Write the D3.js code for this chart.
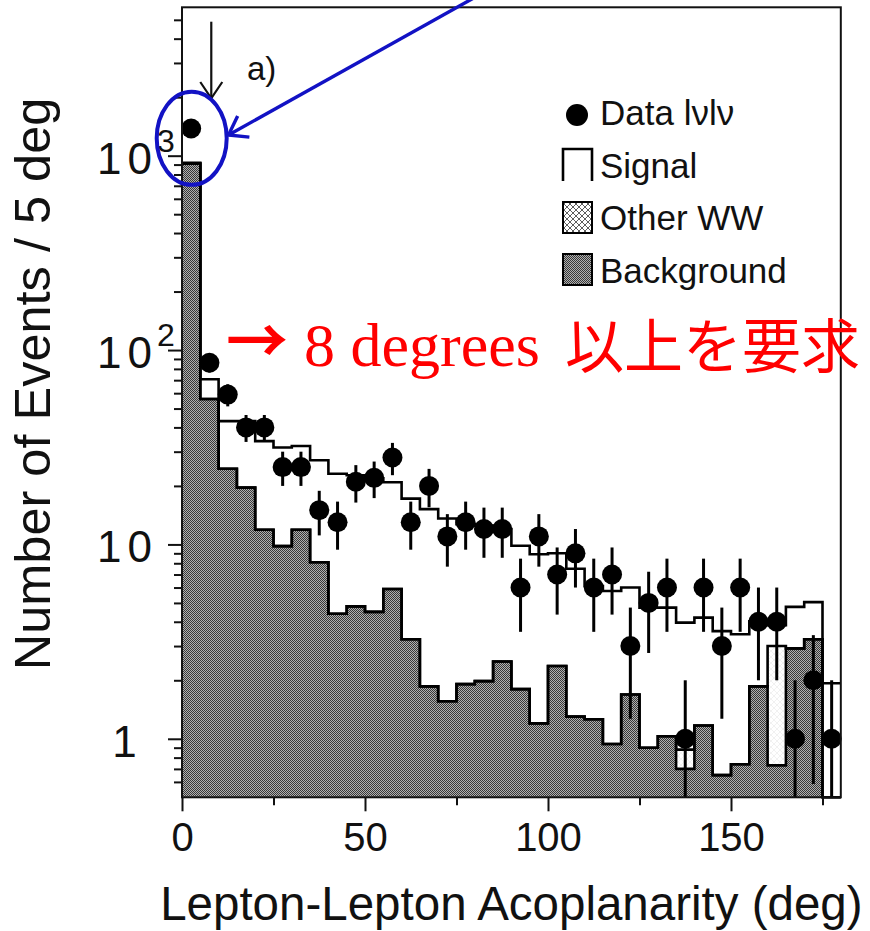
<!DOCTYPE html>
<html>
<head>
<meta charset="utf-8">
<script src="https://cdn.jsdelivr.net/npm/d3@7"></script>
<style>
  html, body { margin: 0; padding: 0; background: #fff; }
  svg { display: block; }
  text { font-family: "Liberation Sans", Arial, Helvetica, sans-serif; fill: #111; }
</style>
</head>
<body>
<svg id="chart" width="870" height="931"></svg>
<script>
// Acoplanarity histogram, 5 degree bins from 0 to 180
const binStarts = [0,5,10,15,20,25,30,35,40,45,50,55,60,65,70,75,80,85,90,95,100,105,110,115,120,125,130,135,140,145,150,155,160,165,170,175];
const binWidth = 5;

// observed events per bin
const dataCounts = [1380,86,59,40,40,25,25,15,13,21,22,28,13,20,11,13,12,12,6,11,7,9,6,7,3,5,6,1,6,3,6,4,4,1,2,1];

// expectations per bin, stacked bottom to top: background, other WW, signal
const background = [910,56,24.5,19.6,11.9,9.8,11.9,8.1,4.4,4.8,4.5,5.9,3.25,1.86,1.56,1.91,1.98,2.5,1.8,1.2,2.37,1.3,1.26,0.94,1.69,0.9,1.03,0.7,1.17,0.65,0.74,1.86,0.73,2.92,3.25,0];
const otherWW    = [0,0,0,0,0,0,0,0,0,0,0,0,0,0,0,0,0,0,0,0,0,0,0,0,0,0,0,0.18,0,0,0,0,2.27,0,0,0];
const signal     = [10,14.7,18.6,23.5,22.1,21.7,20.2,19.0,18.7,17.9,17.4,15.0,13.95,13.34,12.04,10.79,10.52,9.5,8.04,7.7,6.63,6.2,4.85,4.82,4.31,3.83,3.7,3.08,3.03,2.93,2.71,2.16,0.84,1.85,1.8,1.93];

const xMajorTicks = [0,50,100,150];
const xMinorTicks = [25,75,125,175];
const yMajorTicks = [1,10,100,1000];
const yTickLabels = [{base:"1", exp:""},{base:"10", exp:""},{base:"10", exp:"2"},{base:"10", exp:"3"}];
const legendLabels = ["Data lνlν","Signal","Other WW","Background"];
const cutAngle = 8;

const svg = d3.select("#chart");
const plot = {left:182, right:840.8, top:7.3, bottom:797.3};

const x = d3.scaleLinear().domain([0,180]).range([plot.left, plot.right]);
const yMin = 0.5;
const y = d3.scaleLog().domain([yMin, 5800]).range([plot.bottom, plot.top]).clamp(true);
const yc = v => y(Math.max(v, yMin));

// fill patterns
const defs = svg.append("defs");
const bg = defs.append("pattern").attr("id","bgFill").attr("patternUnits","userSpaceOnUse")
  .attr("width",2).attr("height",2);
bg.append("rect").attr("width",2).attr("height",2).attr("fill","#b0b0b0");
bg.append("rect").attr("x",0).attr("y",0).attr("width",1).attr("height",1).attr("fill","#383838");
bg.append("rect").attr("x",1).attr("y",1).attr("width",1).attr("height",1).attr("fill","#383838");

// cross-hatch: strong version for the key, faint version inside the plot
function hatch(id, color, width) {
  const p = defs.append("pattern").attr("id",id).attr("patternUnits","userSpaceOnUse")
    .attr("width",6).attr("height",6);
  p.append("rect").attr("width",6).attr("height",6).attr("fill","#fff");
  p.append("path").attr("d","M0,0L6,6M6,0L0,6").attr("stroke",color).attr("stroke-width",width);
}
hatch("wwKey", "#333", 0.8);
hatch("wwFill", "#e2e2e2", 0.5);

// stacked layers
const rows = binStarts.map((s,i) => ({start:s, background:background[i], otherWW:otherWW[i], signal:signal[i]}));
const layers = d3.stack().keys(["background","otherWW","signal"])(rows);

function stepPoints(layer) {
  const pts = layer.map(d => ({x:d.data.start, lo:d[0], hi:d[1]}));
  const last = pts[pts.length-1];
  pts.push({x:last.x + binWidth, lo:last.lo, hi:last.hi});
  return pts;
}

const bgPts = stepPoints(layers[0]);
const wwPts = stepPoints(layers[1]);
const totPts = stepPoints(layers[2]);

const g = svg.append("g");

// other WW band
g.append("path")
  .attr("d", d3.area().curve(d3.curveStepAfter).x(d=>x(d.x)).y0(d=>yc(d.lo)).y1(d=>yc(d.hi))(wwPts))
  .attr("fill","url(#wwFill)");

// background fill
g.append("path")
  .attr("d", d3.area().curve(d3.curveStepAfter).x(d=>x(d.x)).y0(plot.bottom).y1(d=>yc(d.hi))(bgPts))
  .attr("fill","url(#bgFill)");

// outlines
const stepLine = d3.line().curve(d3.curveStepAfter).x(d=>x(d.x)).y(d=>yc(d.hi));
[bgPts, wwPts, totPts].forEach(p => {
  g.append("path").attr("d", stepLine(p)).attr("fill","none")
    .attr("stroke","#000").attr("stroke-width",2.6).attr("stroke-linejoin","miter");
});

// data with sqrt(N) error bars
const pts = binStarts.map((s,i) => ({xc:s + binWidth/2, n:dataCounts[i]}));
g.selectAll("line.err").data(pts).join("line")
  .attr("class","err")
  .attr("x1",d=>x(d.xc)).attr("x2",d=>x(d.xc))
  .attr("y1",d=>yc(d.n + Math.sqrt(d.n)))
  .attr("y2",d=>{ const lo = d.n - Math.sqrt(d.n); return lo > yMin ? y(lo) : plot.bottom; })
  .attr("stroke","#000").attr("stroke-width",3);
g.selectAll("circle.dat").data(pts).join("circle")
  .attr("class","dat")
  .attr("cx",d=>x(d.xc)).attr("cy",d=>yc(d.n)).attr("r",10).attr("fill","#000");

// frame
svg.append("rect").attr("x",plot.left).attr("y",plot.top)
  .attr("width",plot.right-plot.left).attr("height",plot.bottom-plot.top)
  .attr("fill","none").attr("stroke","#111").attr("stroke-width",2);

// x axis
const xAxisMajor = svg.append("g").attr("transform",`translate(0,${plot.bottom})`)
  .call(d3.axisBottom(x).tickValues(xMajorTicks).tickSize(14).tickSizeOuter(0).tickPadding(10).tickFormat(d3.format("d")));
const xAxisMinor = svg.append("g").attr("transform",`translate(0,${plot.bottom})`)
  .call(d3.axisBottom(x).tickValues(xMinorTicks).tickSize(8).tickSizeOuter(0).tickFormat(""));
[xAxisMajor, xAxisMinor].forEach(a => {
  a.select(".domain").remove();
  a.selectAll(".tick line").attr("stroke","#111").attr("stroke-width",2);
});
xAxisMajor.selectAll(".tick text")
  .attr("dy",null).attr("y",54)
  .style("font-family",'"Liberation Sans", Arial, sans-serif')
  .style("font-size","40px").attr("fill","#111");

// y axis
const yMinorTicks = y.ticks().filter(v => v > 0.55 && !yMajorTicks.includes(v));
const yAxisMajor = svg.append("g").attr("transform",`translate(${plot.left},0)`)
  .call(d3.axisLeft(y).tickValues(yMajorTicks).tickSize(14).tickSizeOuter(0).tickFormat(""));
const yAxisMinor = svg.append("g").attr("transform",`translate(${plot.left},0)`)
  .call(d3.axisLeft(y).tickValues(yMinorTicks).tickSize(8).tickSizeOuter(0).tickFormat(""));
[yAxisMajor, yAxisMinor].forEach(a => {
  a.select(".domain").remove();
  a.selectAll(".tick line").attr("stroke","#111").attr("stroke-width",2);
});
yMajorTicks.forEach((v,i) => {
  const lab = yTickLabels[i];
  const t = svg.append("text").attr("x",124.5).attr("y",y(v)+18)
    .attr("text-anchor","middle").style("font-size","44px").text(lab.base);
  if (lab.base.length > 1) t.attr("textLength",55).attr("lengthAdjust","spacing");
  if (lab.exp) {
    svg.append("text").attr("x",157).attr("y",y(v)-4).style("font-size","32px").text(lab.exp);
  }
});

// axis titles
svg.append("text").attr("x",(plot.left+plot.right)/2).attr("y",920)
  .attr("text-anchor","middle").style("font-size","47.5px")
  .text("Lepton-Lepton Acoplanarity (deg)");
svg.append("text").attr("transform","translate(50,384) rotate(-90)")
  .attr("text-anchor","middle").style("font-size","50.5px")
  .text("Number of Events / 5 deg");

// panel tag
svg.append("text").attr("x",247).attr("y",80).style("font-size","33px").text("a)");

// cut marker arrow
const cx = x(cutAngle);
svg.append("line").attr("x1",cx).attr("x2",cx).attr("y1",21.7).attr("y2",98.3)
  .attr("stroke","#111").attr("stroke-width",2.2);
svg.append("path").attr("d",`M${cx-11},82L${cx},98.3L${cx+11},82`)
  .attr("fill","none").attr("stroke","#111").attr("stroke-width",2.2);

// legend
const lx = 563, lw = 29;
const legendBase = [125, 178, 230, 283];
svg.append("circle").attr("cx",lx+14).attr("cy",115).attr("r",11).attr("fill","#000");
svg.append("path").attr("d",`M${lx},181V149H${lx+lw}V181`).attr("fill","none")
  .attr("stroke","#000").attr("stroke-width",2.6);
svg.append("rect").attr("x",lx).attr("y",202).attr("width",lw).attr("height",31)
  .attr("fill","url(#wwKey)").attr("stroke","#000").attr("stroke-width",2);
svg.append("rect").attr("x",lx).attr("y",254).attr("width",lw).attr("height",31)
  .attr("fill","url(#bgFill)").attr("stroke","#000").attr("stroke-width",2);
legendLabels.forEach((l,i) => {
  svg.append("text").attr("x",600).attr("y",legendBase[i]).style("font-size","35px").text(l);
});

// highlight of the first bin
const blue = "#1212c4";
svg.append("ellipse").attr("cx",191.7).attr("cy",138.3).attr("rx",35).attr("ry",46.5)
  .attr("fill","none").attr("stroke",blue).attr("stroke-width",4);
const tip = [228.5,135], tail = [488,-10];
svg.append("line").attr("x1",tail[0]).attr("y1",tail[1]).attr("x2",tip[0]).attr("y2",tip[1])
  .attr("stroke",blue).attr("stroke-width",3.4);
const ang = Math.atan2(tail[1]-tip[1], tail[0]-tip[0]);
const wing = 21, spread = 35*Math.PI/180;
svg.append("path").attr("d",
  `M${tip[0]+wing*Math.cos(ang+spread)},${tip[1]+wing*Math.sin(ang+spread)}L${tip[0]},${tip[1]}L${tip[0]+wing*Math.cos(ang-spread)},${tip[1]+wing*Math.sin(ang-spread)}`)
  .attr("fill","none").attr("stroke",blue).attr("stroke-width",3.4);

// note about the cut
const red = "#ff0000";
svg.append("text").attr("x",226).attr("y",364).style("font-family",'"Noto Sans CJK JP", "Noto Sans", sans-serif')
  .style("font-size","62px").style("font-weight","bold").style("fill",red).text("→");
svg.append("text").attr("x",304).attr("y",366).style("font-family",'"Liberation Serif", "Times New Roman", serif')
  .style("font-size","62px").style("fill",red).text("8 degrees");
svg.append("text").attr("x",565).attr("y",368).style("font-family",'"Noto Sans CJK JP", sans-serif')
  .style("font-size","59px").style("fill",red).text("以上を要求");
</script>
</body>
</html>
